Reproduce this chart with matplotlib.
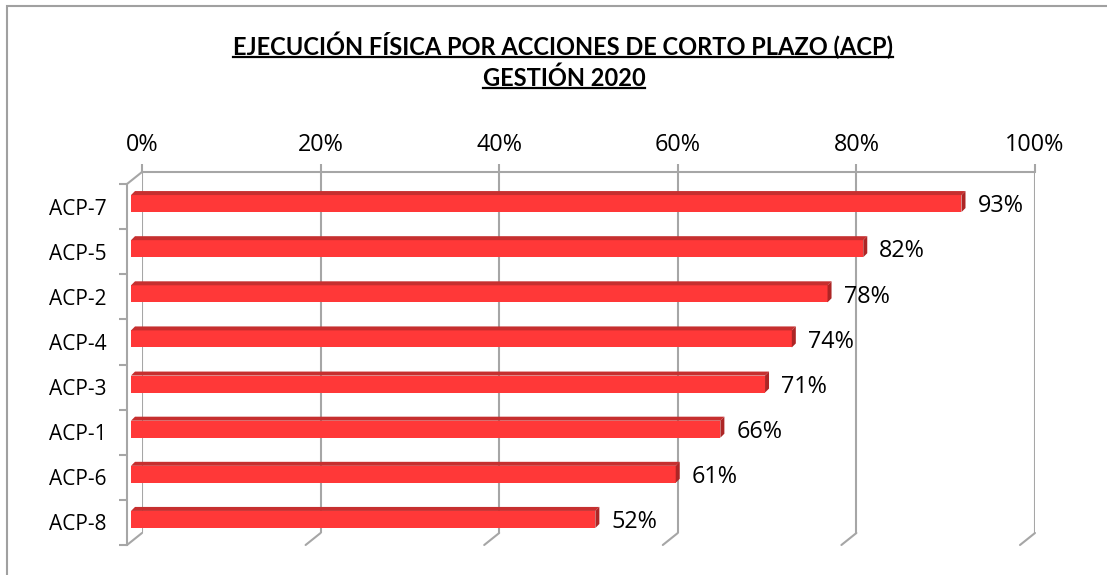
import matplotlib
matplotlib.use("Agg")
import matplotlib.pyplot as plt
from matplotlib.patches import Polygon, Rectangle, ConnectionPatch
from matplotlib.lines import Line2D

# data, top to bottom as shown
categories = ["ACP-7", "ACP-5", "ACP-2", "ACP-4", "ACP-3", "ACP-1", "ACP-6", "ACP-8"]
values = [93, 82, 78, 74, 71, 66, 61, 52]
x_ticks = [0, 20, 40, 60, 80, 100]
title_lines = ["EJECUCIÓN FÍSICA POR ACCIONES DE CORTO PLAZO (ACP)", "GESTIÓN 2020"]

W, H = 1107, 575
FONT = "Open Sans"
TFONT = "Lato"
LSIZE = 15     # category labels
NSIZE = 16.8   # percentages
GRID = "#a6a6a6"
FRONT = "#ff3838"
TOP = "#c62f2f"
SIDE = "#ad2525"

fig = plt.figure(figsize=(W / 100, H / 100), dpi=100)


def rect(left, top, width, height):
    # pixel box -> figure fraction
    return [left / W, 1 - (top + height) / H, width / W, height / H]


# outer chart border
fig.patches.append(Rectangle((7 / W, -0.1), 1.2, 1 - 6 / H + 0.1, transform=fig.transFigure,
                             fill=False, ec="#a0a0a0", lw=1.5))

wall_w, wall_h = 893, 361
wall = fig.add_axes(rect(142, 172, wall_w, wall_h))
front = fig.add_axes(rect(127, 184, wall_w, wall_h))
bars = fig.add_axes(rect(131, 181, wall_w, wall_h))

n = len(categories)
for ax in (wall, front, bars):
    ax.set_xlim(0, 100)
    ax.set_ylim(n - 0.5, -0.5)
    ax.patch.set_visible(False)

# back wall: gridlines + top tick labels
wall.xaxis.tick_top()
wall.set_xticks(x_ticks)
wall.set_xticklabels([f"{t}%" for t in x_ticks], fontsize=NSIZE, fontfamily=FONT)
wall.tick_params(axis="x", length=6, width=1.5, color=GRID, pad=5)
wall.set_yticks([])
wall.grid(axis="x", color=GRID, lw=1.5)
for s in ("left", "right", "bottom"):
    wall.spines[s].set_visible(False)
wall.spines["top"].set_color(GRID)
wall.spines["top"].set_linewidth(1.5)

# floor lines from wall bottom to front edge
for t in x_ticks:
    fig.add_artist(ConnectionPatch(xyA=(t, n - 0.5), coordsA=wall.transData,
                                   xyB=(t, n - 0.5), coordsB=front.transData,
                                   color=GRID, lw=1.5))
fig.add_artist(ConnectionPatch(xyA=(0, -0.5), coordsA=wall.transData,
                               xyB=(0, -0.5), coordsB=front.transData,
                               color=GRID, lw=1.5))

# front category axis
front.set_xticks([])
front.set_yticks([i - 0.5 for i in range(n + 1)])
front.set_yticklabels([])
front.set_yticks(range(n), minor=True)
front.set_yticklabels(categories, minor=True, fontsize=LSIZE, fontfamily=FONT)
front.tick_params(axis="y", which="major", length=6, width=1.5, color=GRID)
front.tick_params(axis="y", which="minor", length=0, pad=15)
for s in ("top", "right", "bottom"):
    front.spines[s].set_visible(False)
front.spines["left"].set_color(GRID)
front.spines["left"].set_linewidth(1.5)

# 3D-looking bars
bar_h = 17 / (wall_h / n)
dx = 4 * 100 / wall_w
dy = 4 / (wall_h / n)
bars.barh(range(n), values, height=bar_h, color=FRONT, lw=0)
for i, v in enumerate(values):
    yt = i - bar_h / 2
    yb = i + bar_h / 2
    bars.add_patch(Polygon([(0, yt), (v, yt), (v + dx, yt - dy), (dx, yt - dy)],
                           closed=True, fc=TOP, ec="none"))
    bars.add_patch(Polygon([(v, yt), (v + dx, yt - dy), (v + dx, yb - dy), (v, yb)],
                           closed=True, fc=SIDE, ec="none"))
    bars.annotate(f"{v}%", (v, i), xytext=(11.5, -2), textcoords="offset points",
                  va="center", ha="left", fontsize=NSIZE, fontfamily=FONT)
bars.axis("off")

# title, underlined
t1 = fig.text(563 / W, 1 - 45 / H, title_lines[0], ha="center", va="center",
              fontsize=17, fontweight="bold", fontfamily=TFONT)
t2 = fig.text(564 / W, 1 - 78 / H, title_lines[1], ha="center", va="center",
              fontsize=17, fontweight="bold", fontfamily=TFONT)
fig.canvas.draw()
r = fig.canvas.get_renderer()
for t in (t1, t2):
    bb = t.get_window_extent(r)
    y = bb.y0 + 2
    fig.add_artist(Line2D([bb.x0, bb.x1], [y, y], transform=None, color="black", lw=1.6))

fig.savefig("out.png", dpi=100)
